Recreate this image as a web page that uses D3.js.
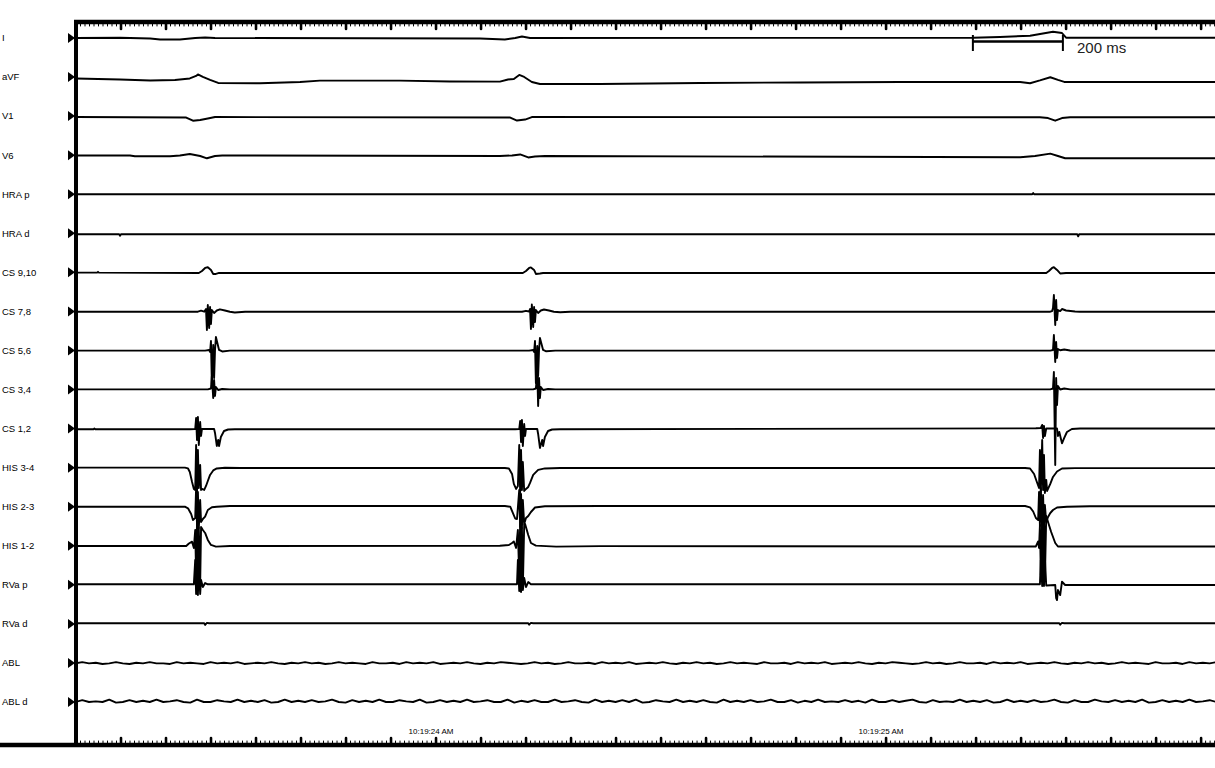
<!DOCTYPE html>
<html>
<head>
<meta charset="utf-8">
<script src="https://cdn.jsdelivr.net/npm/d3@7"></script>
<style>
  body { margin: 0; background: #fff; }
  svg { display: block; font-family: "Liberation Sans", Arial, sans-serif; }
</style>
</head>
<body>
<svg id="chart" width="1215" height="768"></svg>
<script>
// channel names, top to bottom
const channels = ['I', 'aVF', 'V1', 'V6', 'HRA p', 'HRA d', 'CS 9,10', 'CS 7,8', 'CS 5,6', 'CS 3,4',
  'CS 1,2', 'HIS 3-4', 'HIS 2-3', 'HIS 1-2', 'RVa p', 'RVa d', 'ABL', 'ABL d']

// traces as [time ms, amplitude]
const leadI = [[0,0],[99,0.03],[166,-0.05],[188,-0.15],[232,-0.15],[266,0],[288,0.05],[310,0],[899,-0.05],[954,-0.15],[977,0],[992,0.15],[1010,0],[1994,0.03],[2054,0.1],[2121,0.23],[2172,0.63],[2192,0.5],[2201,0.03],[2532,0.03]]
const leadAVF = [[0,-0.14],[99,-0.24],[166,-0.34],[221,-0.29],[254,-0.14],[268,0.11],[272,0.26],[283,0.01],[299,-0.29],[317,-0.59],[410,-0.62],[499,-0.49],[543,-0.36],[721,-0.36],[832,-0.44],[943,-0.46],[961,-0.24],[974,-0.19],[986,0.21],[997,0.01],[1014,-0.49],[1032,-0.69],[1166,-0.69],[1388,-0.59],[1610,-0.54],[1832,-0.49],[2099,-0.49],[2121,-0.62],[2143,-0.34],[2166,-0.02],[2183,-0.29],[2197,-0.49],[2532,-0.49]]
const leadV1 = [[0,-0.09],[246,-0.14],[261,-0.46],[277,-0.39],[294,-0.24],[310,-0.09],[966,-0.14],[981,-0.44],[999,-0.34],[1014,-0.09],[2143,-0.12],[2161,-0.19],[2177,-0.46],[2192,-0.19],[2210,-0.12],[2532,-0.12]]
const leadV6 = [[0,-0.03],[121,-0.03],[132,-0.11],[210,-0.11],[232,-0.03],[254,0.12],[277,-0.08],[292,-0.31],[310,-0.08],[326,-0.03],[943,-0.08],[970,-0.03],[988,0.07],[1006,-0.23],[1021,-0.13],[1043,-0.08],[2099,-0.21],[2132,-0.08],[2166,0.15],[2183,-0.08],[2199,-0.31],[2532,-0.31]]
const hraP = [[0,0],[2126,0],[2128,0.12],[2130,0],[2532,0]]
const hraD = [[0,-0.1],[97,-0.1],[99,-0.25],[101,-0.1],[2226,-0.1],[2228,-0.3],[2230,-0.1],[2532,-0.1]]
const cs910 = [[0,-0.03],[48,-0.03],[50,0.05],[52,-0.03],[274,-0.06],[281,0.14],[288,0.44],[294,0.51],[301,0.24],[306,-0.16],[312,-0.16],[319,-0.06],[994,-0.06],[1001,0.14],[1008,0.44],[1012,0.49],[1019,0.24],[1023,-0.16],[1032,-0.11],[1039,-0.06],[2157,-0.06],[2163,0.14],[2170,0.44],[2174,0.51],[2181,0.24],[2188,-0.11],[2201,-0.06],[2532,-0.06]]
const cs78 = [[0,-0.03],[272,-0.03],[279,0.07],[286,-0.03],[290,0.24],[292,-1.86],[294,0.64],[297,-1.66],[299,0.44],[301,-1.26],[303,0.14],[308,-0.16],[314,0.09],[321,0.21],[332,0.09],[343,-0.03],[354,-0.11],[377,-0.03],
  [992,-0.03],[1001,0.06],[1008,-0.01],[1010,0.24],[1012,-1.76],[1014,0.69],[1017,-1.56],[1019,0.44],[1021,-1.06],[1023,0.14],[1028,-0.16],[1034,0.09],[1041,0.19],[1052,0.09],[1063,-0.03],[1077,-0.09],[1099,-0.03],
  [2166,-0.03],[2170,0.04],[2172,0.34],[2174,1.64],[2177,-1.36],[2179,1.14],[2181,-0.86],[2183,0.14],[2188,0.04],[2192,0.24],[2201,0.09],[2221,-0.01],[2232,-0.03],[2532,-0.03]]
const cs56 = [[0,-0.02],[288,-0.02],[297,0.05],[299,-0.15],[301,0.95],[303,-3.35],[306,0.55],[308,-2.75],[310,0.05],[312,1.35],[319,0.05],[326,-0.1],[343,-0.02],
  [1008,-0.02],[1017,0.05],[1019,-0.15],[1021,0.95],[1023,-3.25],[1026,0.45],[1028,-2.55],[1030,0.05],[1032,1.25],[1039,0.05],[1046,-0.08],[1066,-0.02],
  [2166,-0.02],[2172,0.05],[2174,1.55],[2177,-1.15],[2179,0.85],[2181,-0.75],[2183,0.15],[2188,0.02],[2197,0.1],[2210,0],[2232,-0.02],[2532,-0.02]]
const cs34 = [[0,0.02],[294,0.02],[301,0.1],[303,1.35],[306,-0.85],[308,0.95],[310,-0.65],[312,0.25],[317,-0.05],[326,0.05],[343,0.02],
  [1017,0.02],[1023,0.1],[1026,1.75],[1028,-1.65],[1030,1.15],[1032,-0.85],[1034,0.25],[1039,-0.05],[1050,0.05],[1066,0.02],
  [2166,0.02],[2172,0.1],[2174,1.75],[2177,-7.55],[2179,1.15],[2181,-1.55],[2183,0.35],[2188,0],[2197,0.1],[2210,0.02],[2532,0.02]]
const cs12 = [[0,-0.07],[40,-0.07],[42,0],[44,-0.07],[254,-0.07],[266,-0.04],[268,1.06],[270,-1.14],[272,1.16],[274,-1.64],[277,0.66],[279,-0.74],[281,-0.04],[308,-0.04],[310,-0.44],[314,-1.74],[317,-1.14],[319,-1.74],[323,-0.84],[330,-0.24],[339,-0.09],[354,-0.07],
  [977,-0.07],[986,-0.04],[988,0.76],[990,-1.34],[992,0.86],[994,-1.74],[997,0.46],[999,-0.74],[1001,-0.04],[1026,-0.04],[1028,-0.54],[1032,-1.94],[1037,-1.14],[1039,-1.74],[1043,-0.84],[1050,-0.24],[1059,-0.09],[1077,-0.07],
  [2134,0.03],[2145,0.06],[2148,0.36],[2150,-0.94],[2152,0.26],[2154,-0.74],[2157,0.01],[2181,0.01],[2183,-0.74],[2186,-0.34],[2192,-1.47],[2197,-0.94],[2203,-0.34],[2214,-0.04],[2232,0.01],[2532,0.01]]
const his34 = [[0,0],[243,0],[250,-0.08],[254,-0.43],[259,-1.43],[263,-2.13],[266,-2.23],[268,2.27],[270,-2.43],[272,1.77],[274,-2.03],[277,0.27],[279,-2.23],[281,-2.13],[286,-2.23],[290,-1.83],[294,-1.33],[299,-0.73],[306,-0.28],[314,-0.08],[332,-0.01],[366,-0.03],
  [954,-0.03],[963,-0.08],[970,-0.63],[974,-1.63],[979,-2.13],[983,-1.83],[986,2.27],[988,-2.53],[990,1.77],[992,-2.23],[994,0.57],[997,-2.33],[1001,-2.13],[1006,-1.93],[1010,-1.53],[1017,-0.73],[1028,-0.23],[1043,-0.08],[1077,-0.03],
  [2110,-0.03],[2121,-0.08],[2130,-0.63],[2137,-1.53],[2141,-2.03],[2143,1.77],[2145,-2.43],[2148,2.77],[2150,-2.23],[2152,1.27],[2154,-2.53],[2157,-1.23],[2159,-2.33],[2166,-1.63],[2172,-0.93],[2181,-0.38],[2192,-0.08],[2221,-0.05],[2532,-0.05]]
const his23 = [[0,0],[243,0],[250,-0.16],[257,-0.73],[261,-1.33],[266,-1.13],[268,1.87],[270,-1.83],[272,1.47],[274,-2.13],[277,0.67],[279,-1.53],[283,-1.23],[288,-1],[294,-0.33],[303,-0.06],[314,0],[343,0.07],
  [954,0.07],[966,0],[972,-0.63],[977,-1.18],[981,-1.23],[986,1.67],[988,-2.03],[990,1.27],[992,-2.13],[994,0.67],[997,-1.73],[1001,-1.13],[1006,-0.93],[1012,-0.53],[1021,-0.08],[1043,0.04],[1166,0.07],
  [2110,0.07],[2121,-0.06],[2128,-0.48],[2134,-1.13],[2139,-1.33],[2141,1.47],[2143,-1.93],[2145,1.87],[2148,-2.33],[2150,1.17],[2152,-2.03],[2154,0.17],[2157,-1.53],[2161,-1.03],[2166,-0.63],[2172,-0.33],[2181,-0.08],[2203,0],[2254,0.04],[2532,0.04]]
const his12 = [[0,-0.02],[246,-0.02],[252,0.23],[259,0.41],[263,-0.22],[266,1.58],[268,-2.92],[270,2.38],[272,-3.42],[274,1.78],[277,-3.92],[279,1.88],[283,1.58],[288,1.28],[294,0.58],[301,0.08],[312,-0.09],[343,-0.02],
  [943,0],[963,0.08],[970,0.28],[974,0.43],[979,-0.22],[983,1.58],[986,-3.22],[988,2.38],[990,-3.62],[992,1.78],[994,-4.22],[997,2.08],[999,2.18],[1006,1.08],[1012,0.28],[1023,0.01],[1068,-0.09],[1166,-0.04],
  [2121,-0.07],[2134,-0.07],[2139,0.43],[2141,-0.22],[2143,2.08],[2145,-2.92],[2148,2.58],[2150,-3.72],[2152,2.78],[2154,-3.42],[2157,2.98],[2161,2.38],[2168,1.38],[2177,0.28],[2183,-0.07],[2532,-0.07]]
const rvaP = [[0,0.05],[263,0.05],[266,2.48],[268,-0.92],[270,2.98],[272,-1.02],[274,1.98],[277,-0.92],[279,0.48],[283,-0.22],[288,0.18],[294,0.05],
  [981,0.05],[983,2.48],[986,-0.62],[988,3.48],[990,-0.72],[992,2.98],[994,-0.52],[997,0.68],[1001,-0.22],[1006,0.28],[1012,0.05],
  [2143,0.05],[2145,2.48],[2148,-0.12],[2150,3.28],[2152,-0.12],[2154,2.68],[2157,-0.07],[2177,-0.02],[2179,-1.32],[2181,-1.52],[2183,-0.52],[2188,-1.02],[2192,0.31],[2199,-0.02],[2532,-0.02]]
const rvaD = [[0,0.06],[286,0.06],[288,-0.1],[292,0.1],[297,0.06],[1006,0.06],[1008,-0.08],[1012,0.1],[1017,0.06],[2186,0.06],[2188,-0.08],[2192,0.1],[2197,0.06],[2532,0.06]]

// ablation channels: noise samples every 15 ms, small integer steps
const ablStep = 15
const ablNoise = [0,2,0,1,-1,0,2,0,-1,1, 0,2,0,0,-1,2,0,1,0,-1, 2,0,1,0,2,-1,0,1,0,2, 0,-1,1,0,2,0,1,-1,0,2,
  0,1,0,-1,2,0,0,1,-1,2, 0,1,0,2,-1,0,1,0,2,0, -1,1,0,2,1,0,-1,0,2,0, 1,-1,0,2,0,0,1,-1,2,0,
  1,0,2,-1,0,1,0,2,0,-1, 1,0,2,0,1,-1,0,2,0,1, 0,-1,2,0,0,1,-1,2,0,1, 0,2,-1,0,1,0,2,0,-1,1,
  0,2,1,0,-1,0,2,0,1,-1, 0,2,0,0,1,-1,2,0,1,0, 2,-1,0,1,0,2,0,-1,1,0, 2,0,1,-1,0,2,0,1,0,-1,
  2,0,0,1,-1,2,0,1,0,2]
const ablDNoise = [0,3,0,1,0,4,-1,0,3,0, 2,0,4,0,1,3,0,-1,4,0, 0,3,1,0,4,0,2,0,3,-1, 0,4,0,2,0,3,0,1,4,0,
  -1,3,0,2,0,4,0,0,3,1, 0,4,-1,0,3,0,2,0,4,0, 1,3,0,0,4,-1,2,0,3,0, 0,4,0,1,3,0,-1,4,0,2,
  0,3,0,4,-1,0,3,1,0,4, 0,2,0,3,0,-1,4,0,2,0, 3,0,1,4,0,0,3,-1,2,0, 4,0,1,0,3,0,2,-1,4,0,
  0,3,0,2,4,0,-1,3,0,1, 0,4,0,2,0,3,-1,0,4,0, 2,0,3,0,1,4,0,-1,3,0, 0,4,1,0,3,0,2,0,4,-1,
  0,3,0,2,0,4,0,1,3,0, -1,4,0,2,0,3,0,1,4,0]
const noiseUnit = 0.06
const ablOffset = [-0.04, 0]

// clock labels on the time axis
const clockTimes = [790, 1790]
const clockLabels = ['10:19:24 AM', '10:19:25 AM']

// calibration bar
const calStart = 1994
const calLength = 200

const traces = {
  'I': leadI, 'aVF': leadAVF, 'V1': leadV1, 'V6': leadV6, 'HRA p': hraP, 'HRA d': hraD,
  'CS 9,10': cs910, 'CS 7,8': cs78, 'CS 5,6': cs56, 'CS 3,4': cs34, 'CS 1,2': cs12,
  'HIS 3-4': his34, 'HIS 2-3': his23, 'HIS 1-2': his12, 'RVa p': rvaP, 'RVa d': rvaD,
  'ABL': ablNoise.map((n, i) => [i * ablStep, n * noiseUnit + ablOffset[0]]),
  'ABL d': ablDNoise.map((n, i) => [i * ablStep, n * noiseUnit + ablOffset[1]])
}

const width = 1215
const axisX = 76
const topY = 22
const bottomY = 745

const svg = d3.select('#chart')

const x = d3.scaleLinear().domain([0, 2532]).range([75.5, 1215])
const y = d3.scalePoint().domain(channels).range([38, 702])
const amp = d3.scaleLinear().domain([-1, 1]).range([10, -10])

svg.append('clipPath').attr('id', 'plot')
  .append('rect').attr('x', axisX).attr('y', topY).attr('width', width - axisX).attr('height', bottomY - topY)

const line = d3.line()
  .x(d => x(d[0]))
  .y(d => amp(d[1]))

const rows = svg.append('g').attr('clip-path', 'url(#plot)')
  .selectAll('g')
  .data(channels)
  .join('g')
  .attr('transform', d => `translate(0, ${y(d)})`)

rows.append('path')
  .attr('fill', 'none')
  .attr('stroke', '#000')
  .attr('stroke-width', 1.9)
  .attr('stroke-linejoin', 'round')
  .attr('d', d => line(traces[d]))

// channel labels and markers
svg.append('g')
  .selectAll('text')
  .data(channels)
  .join('text')
  .attr('x', 2)
  .attr('y', d => y(d))
  .attr('dy', '0.35em')
  .attr('font-size', 9.5)
  .attr('fill', '#000')
  .text(d => d)

svg.append('g')
  .selectAll('path')
  .data(channels)
  .join('path')
  .attr('d', d => `M68,${y(d) - 5}L75,${y(d)}L68,${y(d) + 5}Z`)
  .attr('fill', '#000')

// time axes
const minorTicks = d3.range(0, 2540, 10)
const majorTicks = d3.range(100, 2540, 100)

const axisStyle = (g, w) => {
  g.select('.domain').remove()
  g.selectAll('.tick line').attr('stroke', '#000').attr('stroke-width', w).attr('stroke-linecap', 'round')
}

svg.append('g')
  .attr('transform', `translate(0, ${topY})`)
  .call(d3.axisBottom(x).tickValues(minorTicks).tickSize(4).tickFormat(''))
  .call(g => axisStyle(g, 1))
svg.append('g')
  .attr('transform', `translate(0, ${topY})`)
  .call(d3.axisBottom(x).tickValues(majorTicks).tickSize(7).tickFormat(''))
  .call(g => axisStyle(g, 2.6))

svg.append('g')
  .attr('transform', `translate(0, ${bottomY})`)
  .call(d3.axisTop(x).tickValues(minorTicks).tickSize(4).tickFormat(''))
  .call(g => axisStyle(g, 1))
svg.append('g')
  .attr('transform', `translate(0, ${bottomY})`)
  .call(d3.axisTop(x).tickValues(majorTicks).tickSize(7).tickFormat(''))
  .call(g => axisStyle(g, 2.6))

svg.append('line')
  .attr('x1', 74).attr('x2', width).attr('y1', topY).attr('y2', topY)
  .attr('stroke', '#000').attr('stroke-width', 4.5)
svg.append('line')
  .attr('x1', 0).attr('x2', width).attr('y1', bottomY).attr('y2', bottomY)
  .attr('stroke', '#000').attr('stroke-width', 4.5)
svg.append('line')
  .attr('x1', axisX).attr('x2', axisX).attr('y1', topY - 2).attr('y2', bottomY + 2)
  .attr('stroke', '#000').attr('stroke-width', 4)

svg.append('g')
  .selectAll('text')
  .data(clockTimes)
  .join('text')
  .attr('x', d => x(d))
  .attr('y', 734)
  .attr('text-anchor', 'middle')
  .attr('font-size', 8)
  .attr('fill', '#000')
  .text((d, i) => clockLabels[i])

// 200 ms calibration bar
const cal = svg.append('g')
cal.append('line')
  .attr('x1', x(calStart)).attr('x2', x(calStart + calLength)).attr('y1', 41.5).attr('y2', 41.5)
  .attr('stroke', '#000').attr('stroke-width', 2.5)
cal.selectAll('.cap')
  .data([calStart, calStart + calLength])
  .join('line')
  .attr('class', 'cap')
  .attr('x1', d => x(d)).attr('x2', d => x(d)).attr('y1', 35).attr('y2', 51)
  .attr('stroke', '#000').attr('stroke-width', 2)
cal.append('text')
  .attr('x', 1077)
  .attr('y', 52.5)
  .attr('font-size', 15)
  .attr('fill', '#222')
  .text(calLength + ' ms')
</script>
</body>
</html>
